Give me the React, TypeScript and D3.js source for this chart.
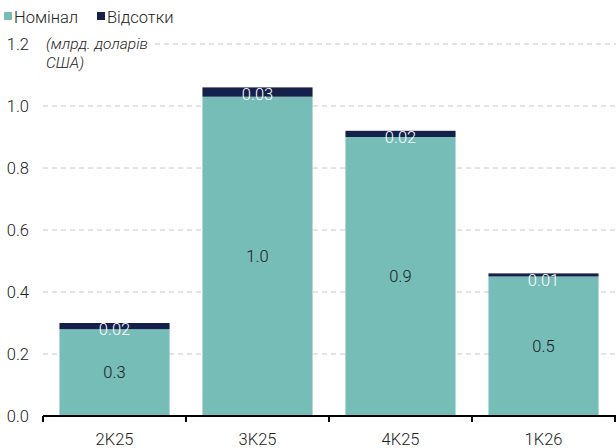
import React from "react";
import * as d3 from "d3";

const categories = ["2K25", "3K25", "4K25", "1K26"];
const nominal = [0.28, 1.03, 0.9, 0.45];
const interest = [0.02, 0.03, 0.02, 0.01];
const nominalLabels = ["0.3", "1.0", "0.9", "0.5"];
const interestLabels = ["0.02", "0.03", "0.02", "0.01"];
const yTicks = [0, 0.2, 0.4, 0.6, 0.8, 1.0, 1.2];
const seriesNames = ["Номінал", "Відсотки"];

const W = 616, H = 448;
const TEAL = "#76bcb7";
const NAVY = "#15204b";
const FONT = "Roboto, sans-serif";
const FS = 16.5;

export default function App() {
  const y = d3.scaleLinear().domain([0, 1.2]).range([416, 44]);
  const x = d3.scaleBand().domain(categories).range([43, 615]).paddingInner(0.23).paddingOuter(0.115);
  const bw = x.bandwidth();
  const step = x.step();
  return (
    <svg width={W} height={H} style={{ position: "absolute", left: 0, top: 0, fontFamily: FONT, fontWeight: 300 }}>
      {yTicks.map((t) => (
        <g key={t}>
          {t > 0 && (
            <line x1={t === 1.2 ? 155 : 43} x2={616} y1={y(t)} y2={y(t)} stroke="#c8c8c8" strokeDasharray="5,4" strokeWidth={1} />
          )}
          <text x={29} y={y(t)} dy="0.35em" textAnchor="end" fontSize={FS} fill="#222">
            {t.toFixed(1)}
          </text>
        </g>
      ))}
      <text x={46} y={49} fontSize={15.5} fontStyle="italic" fill="#222">(млрд. доларів</text>
      <text x={46} y={68} fontSize={15.5} fontStyle="italic" fill="#222">США)</text>
      {categories.map((c, i) => {
        const x0 = x(c)!;
        const yn = y(nominal[i]);
        const yt = y(nominal[i] + interest[i]);
        return (
          <g key={c}>
            <rect x={x0} y={yn} width={bw} height={y(0) - yn} fill={TEAL} />
            <rect x={x0} y={yt} width={bw} height={yn - yt} fill={NAVY} />
            <text x={x0 + bw / 2} y={(yn + y(0)) / 2} dy="0.35em" textAnchor="middle" fontSize={FS} fill="#1a1a1a">
              {nominalLabels[i]}
            </text>
            <text x={x0 + bw / 2} y={yt - 1} dy="0.8em" textAnchor="middle" fontSize={FS} fill="#fff">
              {interestLabels[i]}
            </text>
            <text x={x0 + bw / 2} y={439} dy="0.35em" textAnchor="middle" fontSize={FS} fill="#222">
              {c}
            </text>
          </g>
        );
      })}
      <line x1={43} x2={616} y1={416} y2={416} stroke="#000" strokeWidth={2} />
      {d3.range(categories.length + 1).map((i) => (
        <line key={i} x1={43 + i * step} x2={43 + i * step} y1={416} y2={422} stroke="#000" strokeWidth={2} />
      ))}
      <rect x={4} y={12} width={8} height={8} fill={TEAL} />
      <text x={14} y={17} dy="0.35em" fontSize={FS} fill="#222">{seriesNames[0]}</text>
      <rect x={97} y={12} width={8} height={8} fill={NAVY} />
      <text x={107} y={17} dy="0.35em" fontSize={FS} fill="#222">{seriesNames[1]}</text>
    </svg>
  );
}
